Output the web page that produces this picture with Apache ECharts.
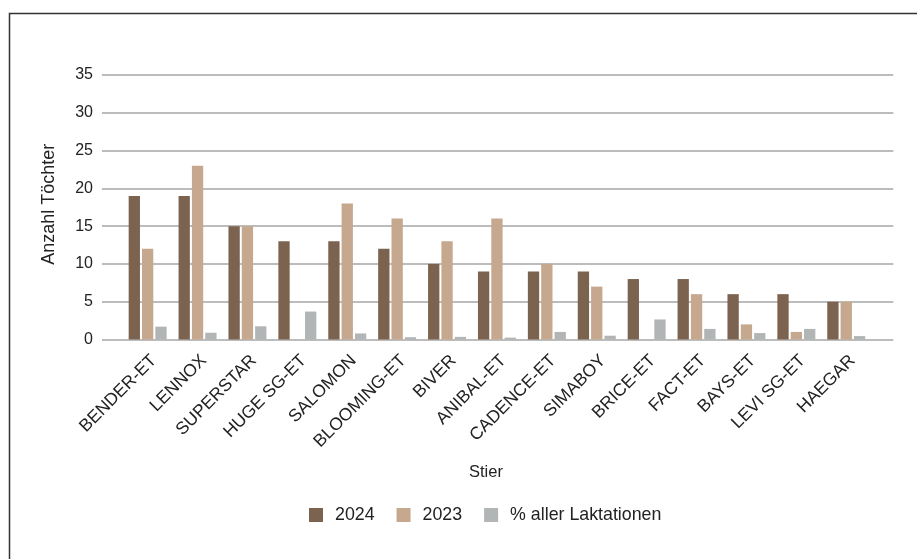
<!DOCTYPE html>
<html>
<head>
<meta charset="utf-8">
<script src="https://cdn.jsdelivr.net/npm/echarts@6/dist/echarts.min.js"></script>
<style>
  html, body { margin: 0; padding: 0; background: #ffffff; }
  #chart { width: 917px; height: 559px; }
</style>
</head>
<body>
<div id="chart"></div>
<script>
const categories = ['BENDER-ET', 'LENNOX', 'SUPERSTAR', 'HUGE SG-ET', 'SALOMON', 'BLOOMING-ET', 'BIVER', 'ANIBAL-ET', 'CADENCE-ET', 'SIMABOY', 'BRICE-ET', 'FACT-ET', 'BAYS-ET', 'LEVI SG-ET', 'HAEGAR'];
const values2024 = [19, 19, 15, 13, 13, 12, 10, 9, 9, 9, 8, 8, 6, 6, 5];
const values2023 = [12, 23, 15, null, 18, 16, 13, 16, 10, 7, null, 6, 2, 1, 5];
const valuesPct = [1.7, 0.9, 1.75, 3.7, 0.8, 0.3, 0.35, 0.25, 1.0, 0.5, 2.65, 1.4, 0.85, 1.4, 0.45];
const seriesNames = ['2024', '2023', '% aller Laktationen'];
const yTicks = { min: 0, max: 35, interval: 5 };

const FONT = '"Liberation Sans", Arial, sans-serif';
const TXT = '#222222';
const chart = echarts.init(document.getElementById('chart'), null, { renderer: 'canvas' });

const barCommon = { barWidth: 11.3, barGap: '18%', xAxisIndex: 1, yAxisIndex: 1 };

chart.setOption({
  animation: false,
  backgroundColor: '#ffffff',
  textStyle: { fontFamily: FONT, color: TXT },
  graphic: [{
    type: 'rect', left: 7, top: 11, z: -10,
    shape: { width: 1000, height: 1000 },
    style: { fill: 'none', stroke: '#333333', lineWidth: 1.5 }
  }],
  legend: {
    data: seriesNames,
    left: 304, top: 501,
    itemWidth: 14, itemHeight: 14, itemGap: 22,
    icon: 'rect',
    textStyle: { fontFamily: FONT, fontSize: 17.8, color: TXT, padding: [0, 0, 0, 7] }
  },
  grid: [
    { left: 102, right: 23.7, top: 75, bottom: 219.5 },
    { left: 122.7, right: 45.8, top: 75, bottom: 219.5 }
  ],
  xAxis: [
    { gridIndex: 0, type: 'value', min: 0, max: 1, show: false },
    {
      gridIndex: 1, type: 'category', data: categories,
      axisLine: { show: false }, axisTick: { show: false },
      axisLabel: { rotate: 45, margin: 12, verticalAlign: 'top', fontFamily: FONT, fontSize: 17.5, color: TXT, interval: 0 },
      name: 'Stier', nameLocation: 'middle', nameGap: 124,
      nameTextStyle: { fontFamily: FONT, fontSize: 16.5, color: TXT, padding: [0, 22, 0, 0] }
    }
  ],
  yAxis: [
    {
      gridIndex: 0, type: 'value', min: yTicks.min, max: yTicks.max, interval: yTicks.interval,
      axisLine: { show: false }, axisTick: { show: false },
      axisLabel: { margin: 9, fontFamily: FONT, fontSize: 16, color: TXT },
      splitLine: { show: true, lineStyle: { color: '#a6a6a6', width: 1.5 } },
      name: 'Anzahl Töchter', nameLocation: 'middle', nameGap: 44,
      nameTextStyle: { fontFamily: FONT, fontSize: 18, color: TXT, padding: [0, 0, 0, 6] }
    },
    {
      gridIndex: 1, type: 'value', min: yTicks.min, max: yTicks.max, interval: yTicks.interval,
      show: false, splitLine: { show: false }
    }
  ],
  series: [
    Object.assign({ type: 'bar', name: seriesNames[0], data: values2024, itemStyle: { color: '#7c6350' } }, barCommon),
    Object.assign({ type: 'bar', name: seriesNames[1], data: values2023, itemStyle: { color: '#c5a88d' } }, barCommon),
    Object.assign({ type: 'bar', name: seriesNames[2], data: valuesPct, itemStyle: { color: '#b2b5b5' } }, barCommon)
  ]
});
</script>
</body>
</html>
